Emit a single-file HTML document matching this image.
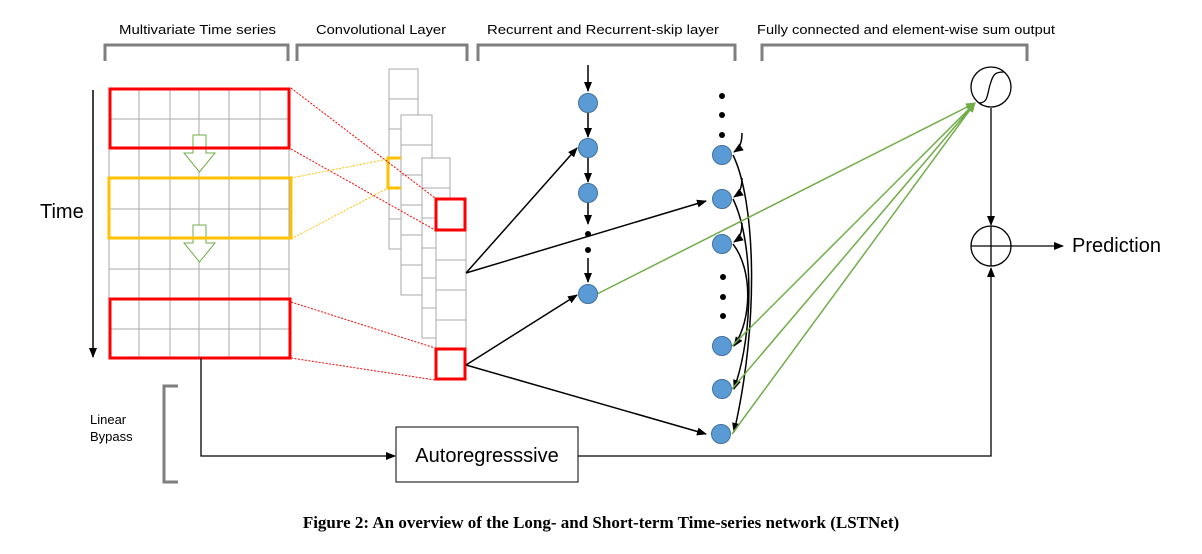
<!DOCTYPE html>
<html><head><meta charset="utf-8"><style>
html,body{margin:0;padding:0;background:#fff;}
svg{display:block;font-family:"Liberation Sans",Arial,sans-serif;}
</style></head><body>
<svg width="1202" height="554" viewBox="0 0 1202 554" xmlns="http://www.w3.org/2000/svg">
<defs>
<marker id="ab" markerWidth="10" markerHeight="8" refX="9" refY="4" orient="auto" markerUnits="userSpaceOnUse"><path d="M0,0 L10,4 L0,8 Z" fill="#000"/></marker>
<marker id="ag" markerWidth="10" markerHeight="8" refX="9" refY="4" orient="auto" markerUnits="userSpaceOnUse"><path d="M0,0 L10,4 L0,8 Z" fill="#70ad47"/></marker>
</defs>
<!-- header labels -->
<g font-size="13" fill="#000">
<text x="119" y="34" textLength="157" lengthAdjust="spacingAndGlyphs">Multivariate Time series</text>
<text x="316" y="34" textLength="130" lengthAdjust="spacingAndGlyphs">Convolutional Layer</text>
<text x="487" y="34" textLength="232" lengthAdjust="spacingAndGlyphs">Recurrent and Recurrent-skip layer</text>
<text x="757" y="34" textLength="298" lengthAdjust="spacingAndGlyphs">Fully connected and element-wise sum output</text>
</g>
<g stroke="#7f7f7f" stroke-width="3" fill="none">
<path d="M105,61 V45 H288 V61"/>
<path d="M297,61 V45 H467 V61"/>
<path d="M478,61 V45 H735 V61"/>
<path d="M762,61 V45 H1027 V61"/>
</g>
<!-- grid -->
<g stroke="#aaa" stroke-width="1" fill="none">
<rect x="109" y="89" width="180" height="269"/>
<path d="M139,89V358M170,89V358M199,89V358M229,89V358M260,89V358"/>
<path d="M109,119H289M109,149H289M109,179H289M109,209H289M109,239H289M109,269H289M109,299H289M109,329H289"/>
</g>
<!-- green hollow arrows -->
<g stroke="#70ad47" stroke-width="1" fill="#fff">
<path d="M193,135 H206 V153 H215 L199.5,172 L184,153 H193 Z"/>
<path d="M193,225 H206 V243 H215 L199.5,262 L184,243 H193 Z"/>
</g>
<rect x="110" y="89" width="179" height="59" fill="none" stroke="#f00" stroke-width="3"/>
<rect x="109" y="178" width="182" height="60" fill="none" stroke="#ffc000" stroke-width="3"/>
<rect x="110" y="299" width="180" height="59" fill="none" stroke="#f00" stroke-width="3"/>
<!-- time axis -->
<line x1="93" y1="90" x2="93" y2="357" stroke="#000" stroke-width="1.5" marker-end="url(#ab)"/>
<text x="40" y="218" font-size="20">Time</text>
<!-- conv stacks -->
<g stroke="#aaa" stroke-width="1" fill="#fff">
<rect x="389" y="69" width="29" height="180"/>
<path d="M389,99H418M389,129H418M389,159H418M389,189H418M389,219H418" fill="none"/>
<rect x="401" y="115" width="31" height="180"/>
<path d="M401,145H432M401,175H432M401,205H432M401,235H432M401,265H432" fill="none"/>
<rect x="422" y="158" width="28" height="180"/>
<path d="M422,188H450M422,218H450M422,248H450M422,278H450M422,308H450" fill="none"/>
<rect x="436" y="200" width="30" height="180"/>
<path d="M436,230H466M436,260H466M436,290H466M436,320H466M436,350H466" fill="none"/>
</g>
<path d="M401,158 H388 V188 H401" fill="none" stroke="#ffc000" stroke-width="3"/>
<rect x="436" y="199" width="29" height="31" fill="none" stroke="#f00" stroke-width="3"/>
<rect x="436" y="349" width="29" height="30" fill="none" stroke="#f00" stroke-width="3"/>
<g stroke-dasharray="2,1.5" stroke-width="1" fill="none">
<path d="M291,88 L435,198 M291,149 L435,230 M291,302 L435,348 M291,358 L435,380" stroke="#f00"/>
<path d="M291,178 L388,159 M291,239 L388,188" stroke="#ffc000"/>
</g>
<!-- recurrent -->
<g stroke="#000" stroke-width="1.5" fill="none">
<line x1="588" y1="65" x2="588" y2="91" marker-end="url(#ab)"/>
<line x1="588" y1="113" x2="588" y2="137" marker-end="url(#ab)"/>
<line x1="588" y1="158" x2="588" y2="182" marker-end="url(#ab)"/>
<line x1="588" y1="202" x2="588" y2="224" marker-end="url(#ab)"/>
<line x1="588" y1="258" x2="588" y2="282" marker-end="url(#ab)"/>
<line x1="466" y1="273" x2="577" y2="148" marker-end="url(#ab)"/>
<line x1="466" y1="273" x2="706" y2="201" marker-end="url(#ab)"/>
<line x1="466" y1="365" x2="577" y2="295" marker-end="url(#ab)"/>
<line x1="466" y1="365" x2="706" y2="434" marker-end="url(#ab)"/>
<!-- skip curves -->
<path d="M733,155 C755,200 760,320 734,432" marker-end="url(#ab)"/>
<path d="M733,199 C753,240 755,330 734,389" marker-end="url(#ab)"/>
<path d="M733,244 C753,270 752,320 734,346" marker-end="url(#ab)"/>
<path d="M742,133 C742,142 740,148 734,152" marker-end="url(#ab)"/>
<path d="M742,178 C742,187 740,193 734,197" marker-end="url(#ab)"/>
<path d="M742,223 C742,232 740,238 734,242" marker-end="url(#ab)"/>
</g>
<g fill="#000">
<circle cx="588" cy="234" r="3"/><circle cx="588" cy="250" r="3"/>
<circle cx="722" cy="96" r="3"/><circle cx="722" cy="115" r="3"/><circle cx="722" cy="135" r="3"/>
<circle cx="723" cy="277" r="3"/><circle cx="723" cy="297" r="3"/><circle cx="723" cy="316" r="3"/>
</g>
<!-- green lines -->
<g stroke="#70ad47" stroke-width="1.5" fill="none">
<line x1="597" y1="294" x2="975" y2="103" marker-end="url(#ag)"/>
<line x1="732" y1="346" x2="975" y2="103" marker-end="url(#ag)"/>
<line x1="732" y1="389" x2="975" y2="103" marker-end="url(#ag)"/>
<line x1="732" y1="434" x2="975" y2="103" marker-end="url(#ag)"/>
</g>
<g fill="#5b9bd5" stroke="#41719c" stroke-width="1">
<circle cx="588" cy="103" r="9.5"/><circle cx="588" cy="148" r="9.5"/><circle cx="588" cy="193" r="9.5"/><circle cx="588" cy="294" r="9.5"/>
<circle cx="722" cy="155" r="9.5"/><circle cx="722" cy="199" r="9.5"/><circle cx="722" cy="244" r="9.5"/>
<circle cx="722" cy="346" r="9.5"/><circle cx="722" cy="389" r="9.5"/><circle cx="721" cy="434" r="9.5"/>
</g>
<!-- output -->
<g stroke="#000" stroke-width="1.3" fill="none">
<circle cx="991" cy="87" r="20"/>
<path d="M979,103 C988,103 987,95 990,85 C993,74 995,72 1004,72"/>
<circle cx="991" cy="246" r="20"/>
<path d="M971,246H1011M991,226V266"/>
<line x1="991" y1="108" x2="991" y2="225" marker-end="url(#ab)"/>
<line x1="1011" y1="246" x2="1063" y2="246" marker-end="url(#ab)"/>
<path d="M578,456 H991 V268" marker-end="url(#ab)"/>
<path d="M201,358 V456 H395" marker-end="url(#ab)"/>
</g>
<text x="1072" y="252" font-size="20">Prediction</text>
<rect x="396" y="427" width="182" height="55" fill="#fff" stroke="#000" stroke-width="1"/>
<text x="487" y="462" font-size="20" text-anchor="middle">Autoregresssive</text>
<path d="M178,386 H164 V482 H178" fill="none" stroke="#7f7f7f" stroke-width="3"/>
<text x="90" y="424" font-size="13">Linear</text>
<text x="90" y="441" font-size="13">Bypass</text>
<text x="601" y="528" font-size="17" font-weight="bold" text-anchor="middle" font-family="Liberation Serif,serif">Figure 2: An overview of the Long- and Short-term Time-series network (LSTNet)</text>
</svg>
</body></html>
